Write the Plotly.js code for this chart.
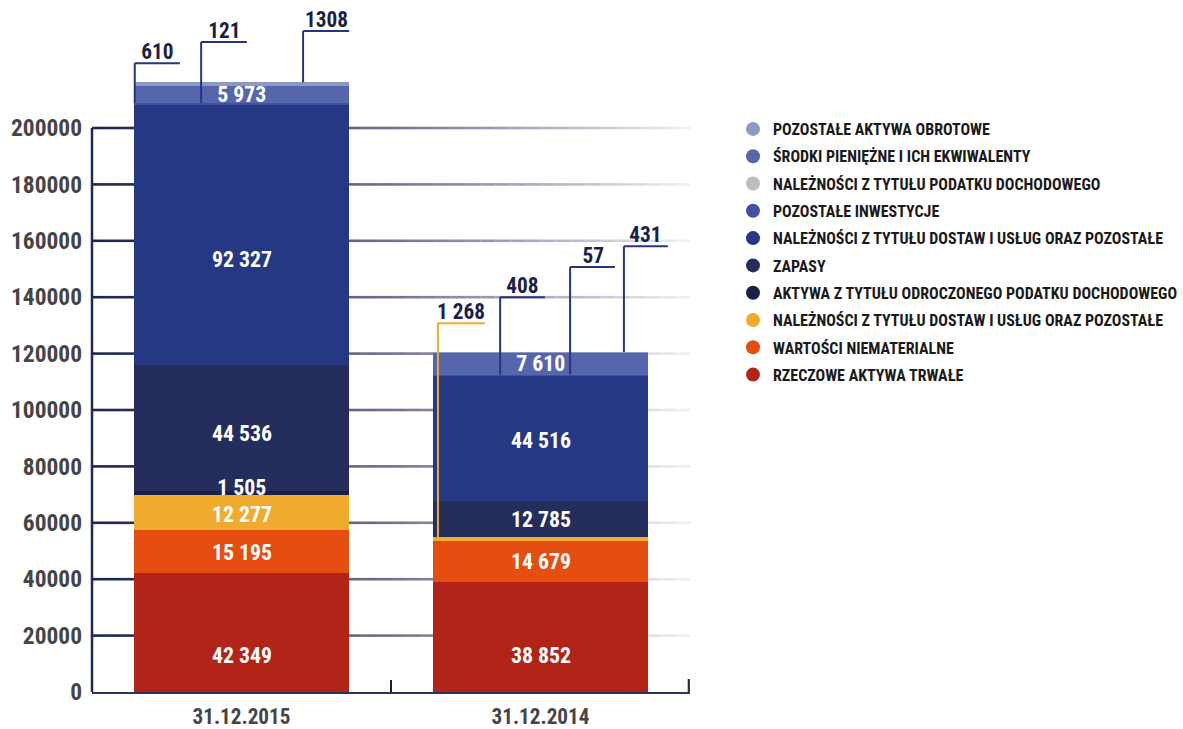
<!DOCTYPE html>
<html><head><meta charset="utf-8">
<script src="https://cdn.plot.ly/plotly-3.0.1.min.js"></script>
<style>html,body{margin:0;padding:0;background:#fff}#chart{width:1183px;height:729px}</style>
</head><body><div id="chart"></div>
<script>
// ---------- DATA ----------
const categories = ['31.12.2015', '31.12.2014'];
const seriesNames = [
  'RZECZOWE AKTYWA TRWAŁE',
  'WARTOŚCI NIEMATERIALNE',
  'NALEŻNOŚCI Z TYTUŁU DOSTAW I USŁUG ORAZ POZOSTAŁE',
  'AKTYWA Z TYTUŁU ODROCZONEGO PODATKU DOCHODOWEGO',
  'ZAPASY',
  'NALEŻNOŚCI Z TYTUŁU DOSTAW I USŁUG ORAZ POZOSTAŁE',
  'POZOSTAŁE INWESTYCJE',
  'NALEŻNOŚCI Z TYTUŁU PODATKU DOCHODOWEGO',
  'ŚRODKI PIENIĘŻNE I ICH EKWIWALENTY',
  'POZOSTAŁE AKTYWA OBROTOWE'
];
const rzeczoweAktywaTrwale     = [42349, 38852];
const wartosciNiematerialne    = [15195, 14679];
const naleznosciDlugoterminowe = [12277, 1268];
const aktywaOdroczonyPodatek   = [1505, 0];
const zapasy                   = [44536, 12785];
const naleznosciKrotkoterminowe= [92327, 44516];
const pozostaleInwestycje      = [610, 408];
const naleznosciPodatek        = [121, 57];
const srodkiPieniezne          = [5973, 7610];
const pozostaleAktywaObrotowe  = [1308, 431];
const yTickValues = [0, 20000, 40000, 60000, 80000, 100000, 120000, 140000, 160000, 180000, 200000];
// callout label texts as printed
const calloutText2015 = ['610', '121', '1308'];
const calloutText2014 = ['1 268', '408', '57', '431'];

// ---------- FONT PICKING (narrowest installed bold sans) ----------
const probe = document.createElement('span');
probe.style.cssText = 'position:absolute;left:-9999px;top:0;white-space:nowrap;font-weight:bold;font-size:100px';
document.body.appendChild(probe);
function measure(family, stretch, text) {
  probe.style.fontFamily = family; probe.style.fontStretch = stretch; probe.textContent = text;
  return probe.getBoundingClientRect().width;
}
const TEST = 'POZOSTAŁE AKTYWA OBROTOWE 200000';
const candidates = [
  {f:'"Noto Sans"', s:'62.5%'},
  {f:'"Noto Sans"', s:'condensed'},
  {f:'"DejaVu Sans Condensed"', s:'normal'},
  {f:'"DejaVu Sans"', s:'condensed'},
  {f:'"Liberation Sans Narrow"', s:'normal'},
  {f:'"Liberation Sans"', s:'condensed'},
  {f:'Roboto', s:'condensed'},
  {f:'Roboto', s:'normal'},
  {f:'"Liberation Sans"', s:'normal'}
];
function isInstalled(f) {
  return ['monospace', 'serif'].some(b => Math.abs(measure(f + ',' + b, 'normal', TEST) - measure(b, 'normal', TEST)) > 0.5);
}
let best = null;
candidates.forEach(c => {
  if (!isInstalled(c.f)) return;
  const w = measure(c.f + ', sans-serif', c.s, TEST);
  if (!best || w < best.w - 0.5) best = {f:c.f, s:c.s, w:w};
});
if (!best) best = {f:'sans-serif', s:'normal', w:measure('sans-serif', 'normal', TEST)};
const FONT = best.f + ', sans-serif';
const styleEl = document.createElement('style');
styleEl.textContent = '#chart text{font-stretch:' + best.s + ' !important;}';
document.head.appendChild(styleEl);
function sizeFor(sample, targetW, maxSize) {
  const per = measure(FONT, best.s, sample) / 100;
  return Math.min(maxSize, targetW / per);
}
const yTickSize   = sizeFor('200000', 71, 24);
const xTickSize   = sizeFor('31.12.2015', 98, 23);
const inBarSize   = sizeFor('92 327', 60, 24);
const calloutSize = sizeFor('1308', 43, 22);
const legendSize  = sizeFor('POZOSTAŁE AKTYWA OBROTOWE', 217, 18);
document.body.removeChild(probe);

// ---------- STYLE ----------
const seriesValues = [rzeczoweAktywaTrwale, wartosciNiematerialne, naleznosciDlugoterminowe,
  aktywaOdroczonyPodatek, zapasy, naleznosciKrotkoterminowe, pozostaleInwestycje,
  naleznosciPodatek, srodkiPieniezne, pozostaleAktywaObrotowe];
const colors = ['#b22418', '#e54e10', '#f0aa2e', '#1c1f45', '#242d5c', '#253884',
  '#4251a0', '#bdbdbd', '#5566ad', '#8d98c3'];
const NAVY = '#1f2a55';
const TEXT_DARK = '#1c1f45';

// inside labels: series, category, vertical pixel nudge
const insideLabels = [[0,0,-23],[0,1,-18],[1,0,-1],[1,1,0],[2,0,-2],[3,0,5.5],[4,0,-5],[4,1,0],
  [5,0,-24],[5,1,-2],[8,0,0],[8,1,0]];
const callouts = [
  {s:6, c:0, text:calloutText2015[0], color:'#27357f', dx:-0.357, ex:-0.206, elbow:223000},
  {s:7, c:0, text:calloutText2015[1], color:'#27357f', dx:-0.135, ex:0.018,  elbow:230500},
  {s:9, c:0, text:calloutText2015[2], color:'#27357f', dx:0.206,  ex:0.36,   elbow:234400},
  {s:2, c:1, text:calloutText2014[0], color:'#f0aa2e', dx:-0.343, ex:-0.186, elbow:130800},
  {s:6, c:1, text:calloutText2014[1], color:'#27357f', dx:-0.135, ex:0.015,  elbow:140000},
  {s:7, c:1, text:calloutText2014[2], color:'#27357f', dx:0.099,  ex:0.249,  elbow:150700},
  {s:9, c:1, text:calloutText2014[3], color:'#27357f', dx:0.279,  ex:0.426,  elbow:158100}
];

const cumTop = seriesValues.map(() => [0, 0]);
for (let c = 0; c < categories.length; c++) {
  let acc = 0;
  for (let s = 0; s < seriesValues.length; s++) { acc += seriesValues[s][c]; cumTop[s][c] = acc; }
}
const fmt = v => String(v).replace(/\B(?=(\d{3})+(?!\d))/g, ' ');

const traces = [];
seriesValues.forEach((vals, i) => {
  traces.push({type:'bar', x:categories, y:vals, name:seriesNames[i],
    marker:{color:colors[i], line:{width:0}}, showlegend:false, hoverinfo:'y+name'});
});
for (let i = seriesValues.length - 1; i >= 0; i--) {
  traces.push({type:'scatter', mode:'markers', x:[categories[0]], y:[null], name:seriesNames[i],
    legendgroup:'g'+i, marker:{color:colors[i], size:14, symbol:'circle'}, showlegend:true, hoverinfo:'skip'});
}

const shapes = [];
const N = 40, c0 = [30,38,82], c1 = [242,242,246];
yTickValues.slice(1).forEach(v => {
  for (let k = 0; k < N; k++) {
    const t = Math.pow((k + 0.5) / N, 1.4);
    const col = 'rgb(' + c0.map((a, j) => Math.round(a + (c1[j] - a) * t)).join(',') + ')';
    shapes.push({type:'line', xref:'paper', yref:'y', x0:k / N, x1:(k + 1) / N, y0:v, y1:v,
      line:{color:col, width:2.6}, layer:'below'});
  }
});
shapes.push({type:'line', xref:'paper', yref:'y', x0:0, x1:0, y0:yTickValues[0], y1:yTickValues[yTickValues.length-1],
  line:{color:NAVY, width:2.5}, layer:'above'});
// closing tick at the right end of the category axis
shapes.push({type:'line', xref:'paper', yref:'y', ysizemode:'pixel', yanchor:yTickValues[0],
  x0:0.998, x1:0.998, y0:0, y1:13, line:{color:'#2a2a3a', width:2.2}, layer:'above'});

const annotations = [];
insideLabels.forEach(([s, c, nudge]) => {
  const v = seriesValues[s][c];
  annotations.push({x:c, y:cumTop[s][c] - v / 2, xref:'x', yref:'y', text:fmt(v), showarrow:false,
    font:{family:FONT, size:inBarSize, color:'#ffffff', weight:'bold'}, yshift:nudge});
});
callouts.forEach(o => {
  const y = cumTop[o.s][o.c];
  shapes.push({type:'line', xref:'x', yref:'y', x0:o.c + o.dx, x1:o.c + o.dx, y0:y, y1:o.elbow,
    line:{color:o.color, width:2}, layer:'above'});
  shapes.push({type:'line', xref:'x', yref:'y', x0:o.c + o.dx, x1:o.c + o.ex, y0:o.elbow, y1:o.elbow,
    line:{color:o.color, width:2}, layer:'above'});
  annotations.push({x:o.c + (o.dx + o.ex) / 2, y:o.elbow, xref:'x', yref:'y', text:o.text, showarrow:false,
    yanchor:'bottom', yshift:-3, font:{family:FONT, size:calloutSize, color:TEXT_DARK, weight:'bold'}});
});

const layout = {
  width:1183, height:729,
  margin:{l:92, r:493, t:10, b:37},
  paper_bgcolor:'#ffffff', plot_bgcolor:'rgba(0,0,0,0)',
  barmode:'stack', bargap:0.281,
  font:{family:FONT},
  xaxis:{type:'category', showline:true, linecolor:'#2a3560', linewidth:2.2,
    ticks:'inside', tickson:'boundaries', ticklen:12, tickwidth:2, tickcolor:'#1f1f30',
    showgrid:false, zeroline:false, ticklabelstandoff:4, automargin:false,
    tickfont:{family:FONT, size:xTickSize, color:'#454545', weight:'bold'}},
  yaxis:{range:[0, 241844], showline:false, showgrid:false, zeroline:false, automargin:false,
    tickmode:'array', tickvals:yTickValues, ticktext:yTickValues.map(String), ticks:'',
    ticklabelstandoff:9,
    tickfont:{family:FONT, size:yTickSize, color:'#454545', weight:'bold'}},
  legend:{x:733/1183, y:1 - 112/729, xanchor:'left', yanchor:'top', xref:'container', yref:'container',
    traceorder:'grouped', tracegroupgap:Math.max(0, 24.3 - 1.3 * legendSize), itemclick:false,
    font:{family:FONT, size:legendSize, color:'#1a1a1a', weight:'bold'}, bgcolor:'rgba(0,0,0,0)'},
  shapes:shapes, annotations:annotations, showlegend:true
};
Plotly.newPlot('chart', traces, layout, {displayModeBar:false, staticPlot:true});
</script></body></html>
